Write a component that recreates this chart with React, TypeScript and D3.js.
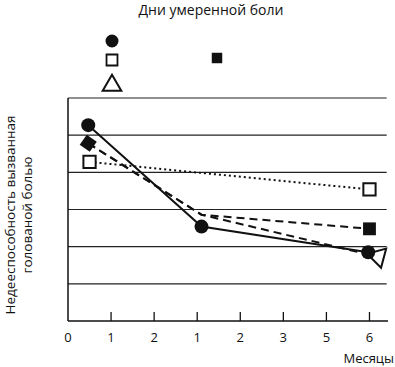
import React, { useRef, useEffect } from 'react';
import * as d3 from 'd3';

const W = 395;
const H = 367;
const MARGIN = { top: 98, right: 7, bottom: 46, left: 68 };

const X_TICK_LABELS = ['0', '1', '2', '1', '2', '3', '5', '6'];
const Y_GRID = [1, 2, 3, 4, 5, 6];

// position on axis (index of tick) and disability level
const circleX = [0.47, 3.1, 6.97];
const circleY = [5.27, 2.54, 1.85];
const filledSquareX = [0.47, 3.1, 7.0];
const filledSquareY = [4.78, 2.86, 2.48];
const triangleX = [0.47, 3.1, 7.2];
const triangleY = [4.78, 2.86, 1.73];
const openSquareX = [0.5, 7.0];
const openSquareY = [4.28, 3.54];

const FONT = '"Open Sans", sans-serif';

export default function App() {
  const svgRef = useRef<SVGSVGElement>(null);

  useEffect(() => {
    const svg = d3.select(svgRef.current);
    svg.selectAll('*').remove();

    const innerW = W - MARGIN.left - MARGIN.right;
    const innerH = H - MARGIN.top - MARGIN.bottom;

    const x = d3.scaleLinear().domain([0, 7.43]).range([0, innerW]);
    const y = d3.scaleLinear().domain([0, 6]).range([innerH, 0]);

    const g = svg.append('g').attr('transform', `translate(${MARGIN.left},${MARGIN.top})`);

    // grid lines
    g.selectAll('line.grid')
      .data(Y_GRID)
      .join('line')
      .attr('class', 'grid')
      .attr('x1', 0).attr('x2', x(7.4))
      .attr('y1', d => y(d)).attr('y2', d => y(d))
      .attr('stroke', '#222').attr('stroke-width', 1.2);

    // axes
    g.append('line')
      .attr('x1', 0).attr('x2', 0).attr('y1', y(6)).attr('y2', y(0))
      .attr('stroke', '#111').attr('stroke-width', 1.5);
    g.append('line')
      .attr('x1', 0).attr('x2', innerW).attr('y1', y(0)).attr('y2', y(0))
      .attr('stroke', '#111').attr('stroke-width', 1.5);

    const ticks = X_TICK_LABELS.map((l, i) => ({ l, i }));
    g.selectAll('line.tick')
      .data(ticks.filter(t => t.i > 0))
      .join('line')
      .attr('class', 'tick')
      .attr('x1', d => x(d.i)).attr('x2', d => x(d.i))
      .attr('y1', y(0)).attr('y2', y(0) - 9)
      .attr('stroke', '#111').attr('stroke-width', 1.3);
    g.selectAll('text.tl')
      .data(ticks)
      .join('text')
      .attr('class', 'tl')
      .attr('x', d => x(d.i)).attr('y', y(0) + 21)
      .attr('text-anchor', 'middle')
      .attr('font-family', FONT).attr('font-size', 13).attr('fill', '#111')
      .text(d => d.l);

    svg.append('text')
      .attr('x', 394).attr('y', 363)
      .attr('text-anchor', 'end')
      .attr('font-family', FONT).attr('font-size', 13).attr('fill', '#111')
      .text('Месяцы');

    // y label
    const yl = svg.append('text')
      .attr('transform', 'translate(0,215) rotate(-90)')
      .attr('text-anchor', 'middle')
      .attr('font-family', FONT).attr('font-size', 13.5).attr('fill', '#111');
    yl.append('tspan').attr('x', 0).attr('y', 15).text('Недееспособность вызванная');
    yl.append('tspan').attr('x', 0).attr('y', 32).text('голованой болью');

    // title
    svg.append('text')
      .attr('x', 211).attr('y', 15)
      .attr('text-anchor', 'middle')
      .attr('font-family', FONT).attr('font-size', 14).attr('fill', '#111')
      .text('Дни умеренной боли');

    const line = d3.line<[number, number]>().x(d => x(d[0])).y(d => y(d[1]));
    const pairs = (xs: number[], ys: number[]) => xs.map((v, i) => [v, ys[i]] as [number, number]);

    g.append('path').attr('d', line(pairs(openSquareX, openSquareY)))
      .attr('fill', 'none').attr('stroke', '#111').attr('stroke-width', 2).attr('stroke-dasharray', '2,3');
    g.append('path').attr('d', line(pairs(triangleX, triangleY)))
      .attr('fill', 'none').attr('stroke', '#111').attr('stroke-width', 2).attr('stroke-dasharray', '8,5');
    g.append('path').attr('d', line(pairs(filledSquareX, filledSquareY)))
      .attr('fill', 'none').attr('stroke', '#111').attr('stroke-width', 2).attr('stroke-dasharray', '8,5');
    g.append('path').attr('d', line(pairs(circleX, circleY)))
      .attr('fill', 'none').attr('stroke', '#111').attr('stroke-width', 2);

    const sym = (type: d3.SymbolType, size: number) => d3.symbol().type(type).size(size)();

    // markers
    g.append('path').attr('d', sym(d3.symbolSquare, 150))
      .attr('transform', `translate(${x(openSquareX[0])},${y(openSquareY[0])})`)
      .attr('fill', '#fff').attr('stroke', '#111').attr('stroke-width', 2);
    g.append('path').attr('d', sym(d3.symbolSquare, 150))
      .attr('transform', `translate(${x(openSquareX[1])},${y(openSquareY[1])})`)
      .attr('fill', '#fff').attr('stroke', '#111').attr('stroke-width', 2);
    g.append('path').attr('d', sym(d3.symbolSquare, 150))
      .attr('transform', `translate(${x(filledSquareX[0])},${y(filledSquareY[0])}) rotate(35)`)
      .attr('fill', '#111');
    g.append('path').attr('d', sym(d3.symbolSquare, 165))
      .attr('transform', `translate(${x(filledSquareX[2])},${y(filledSquareY[2])})`)
      .attr('fill', '#111');
    g.append('path').attr('d', sym(d3.symbolTriangle, 170))
      .attr('transform', `translate(${x(triangleX[2])},${y(triangleY[2])}) rotate(165)`)
      .attr('fill', '#fff').attr('stroke', '#111').attr('stroke-width', 2);
    g.selectAll('circle.c')
      .data(pairs(circleX, circleY))
      .join('circle')
      .attr('class', 'c')
      .attr('cx', d => x(d[0])).attr('cy', d => y(d[1]))
      .attr('r', 7).attr('fill', '#111');

    // legend
    svg.append('circle').attr('cx', 112).attr('cy', 41).attr('r', 6.5).attr('fill', '#111');
    svg.append('path').attr('d', sym(d3.symbolSquare, 120))
      .attr('transform', 'translate(112,60)')
      .attr('fill', '#fff').attr('stroke', '#111').attr('stroke-width', 1.8);
    svg.append('path').attr('d', sym(d3.symbolTriangle, 150))
      .attr('transform', 'translate(112,85.5)')
      .attr('fill', '#fff').attr('stroke', '#111').attr('stroke-width', 2);
    svg.append('path').attr('d', sym(d3.symbolSquare, 110))
      .attr('transform', 'translate(217,58)')
      .attr('fill', '#111');
  }, []);

  return (
    <svg
      ref={svgRef}
      width={W}
      height={H}
      style={{ position: 'absolute', left: 0, top: 0, background: '#fff' }}
    />
  );
}
